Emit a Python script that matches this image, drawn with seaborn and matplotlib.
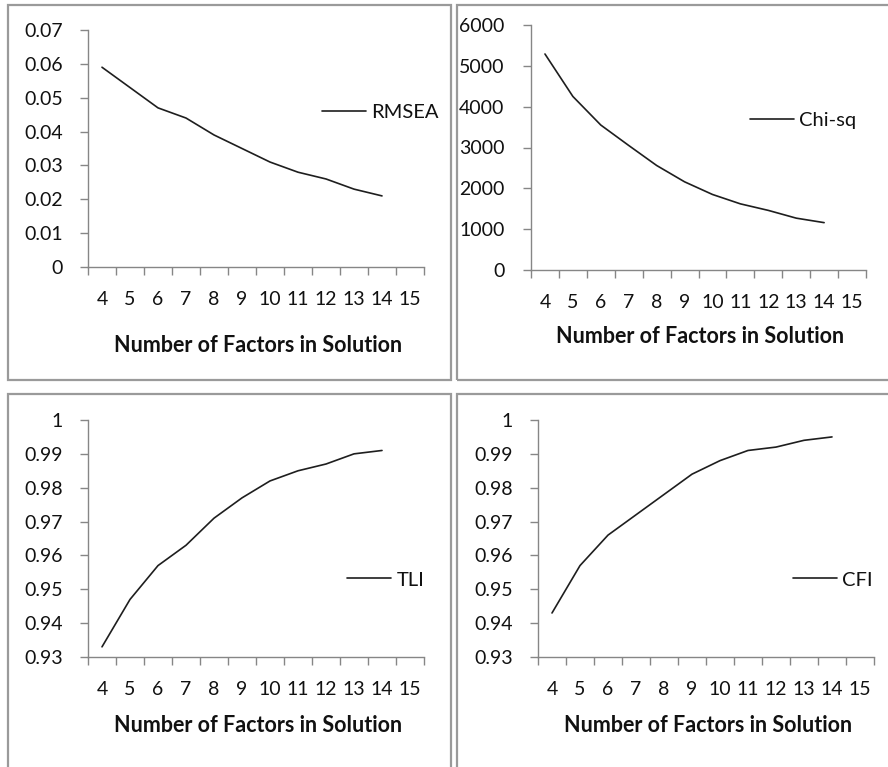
import numpy as np
import matplotlib
matplotlib.use("Agg")
import matplotlib.pyplot as plt
import seaborn as sns
from matplotlib.patches import Rectangle
from matplotlib.ticker import FixedLocator, FuncFormatter

# data
factors = [4, 5, 6, 7, 8, 9, 10, 11, 12, 13, 14]
categories = [4, 5, 6, 7, 8, 9, 10, 11, 12, 13, 14, 15]
rmsea = [0.059, 0.053, 0.047, 0.044, 0.039, 0.035, 0.031, 0.028, 0.026, 0.023, 0.021]
chisq = [5290, 4250, 3550, 3050, 2560, 2160, 1850, 1620, 1460, 1270, 1160]
tli = [0.933, 0.947, 0.957, 0.963, 0.971, 0.977, 0.982, 0.985, 0.987, 0.990, 0.991]
cfi = [0.943, 0.957, 0.966, 0.972, 0.978, 0.984, 0.988, 0.991, 0.992, 0.994, 0.995]

sns.set_style("white")
plt.rcParams["font.family"] = ["Lato", "DejaVu Sans"]

W, H = 888, 767
fig = plt.figure(figsize=(W / 100, H / 100), dpi=100)


def frac(x0, y0, x1, y1):
    return [x0 / W, 1 - y1 / H, (x1 - x0) / W, (y1 - y0) / H]


# panel borders
for x0, y0, x1, y1 in [(8, 5, 451, 380), (457, 5, 892, 380), (8, 394, 451, 772), (457, 394, 892, 772)]:
    fig.add_artist(Rectangle((x0 / W, 1 - y1 / H), (x1 - x0) / W, (y1 - y0) / H,
                             transform=fig.transFigure, fill=False, edgecolor="#9a9a9a", lw=1.6))

panels = [
    # values, label, axes px box, y ticks, legend anchor, xlabel y, ylabel pad
    (rmsea, "RMSEA", (88, 30, 424, 267), np.round(np.arange(0, 0.071, 0.01), 2), (0.696, 0.65), -0.33, 12),
    (chisq, "Chi-sq", (531, 25, 866, 270), np.arange(0, 6001, 1000), (0.654, 0.612), -0.27, 13),
    (tli, "TLI", (88, 420, 424, 657), np.round(np.arange(0.93, 1.001, 0.01), 2), (0.771, 0.325), -0.29, 12),
    (cfi, "CFI", (538, 420, 874, 657), np.round(np.arange(0.93, 1.001, 0.01), 2), (0.759, 0.325), -0.29, 12),
]

for values, name, box, yticks, leg, xl_y, ypad in panels:
    ax = fig.add_axes(frac(*box))
    sns.lineplot(x=factors, y=values, ax=ax, color="#1e1e1e", lw=1.2, label=name)
    ax.set_xlim(categories[0] - 0.5, categories[-1] + 0.5)
    ax.set_ylim(yticks[0], yticks[-1])
    ax.set_xticks(categories)
    ax.xaxis.set_minor_locator(FixedLocator(np.arange(categories[0] - 0.5, categories[-1] + 1, 1)))
    ax.set_yticks(yticks)
    ax.yaxis.set_major_formatter(FuncFormatter(lambda v, p: "%g" % v))
    ax.tick_params(axis="x", which="major", length=0, pad=17, labelsize=14, labelcolor="#111111")
    ax.tick_params(axis="x", which="minor", length=6, width=1, direction="out", color="#868686", bottom=True)
    ax.tick_params(axis="y", length=6, width=1, direction="out", color="#868686", left=True,
                   pad=ypad, labelsize=14, labelcolor="#111111")
    for s in ["top", "right"]:
        ax.spines[s].set_visible(False)
    for s in ["left", "bottom"]:
        ax.spines[s].set_color("#868686")
        ax.spines[s].set_linewidth(1.0)
    ax.set_xlabel("Number of Factors in Solution", fontsize=15.5, fontweight="bold", color="#111111", va="center")
    ax.xaxis.set_label_coords(0.505, xl_y)
    ax.set_ylabel("")
    ax.legend(loc="center left", bbox_to_anchor=leg, frameon=False, fontsize=14.5,
              handlelength=2.2, handletextpad=0.25, borderpad=0, borderaxespad=0,
              labelcolor="#111111")
    ax.grid(False)

fig.savefig("out.png", dpi=100)
